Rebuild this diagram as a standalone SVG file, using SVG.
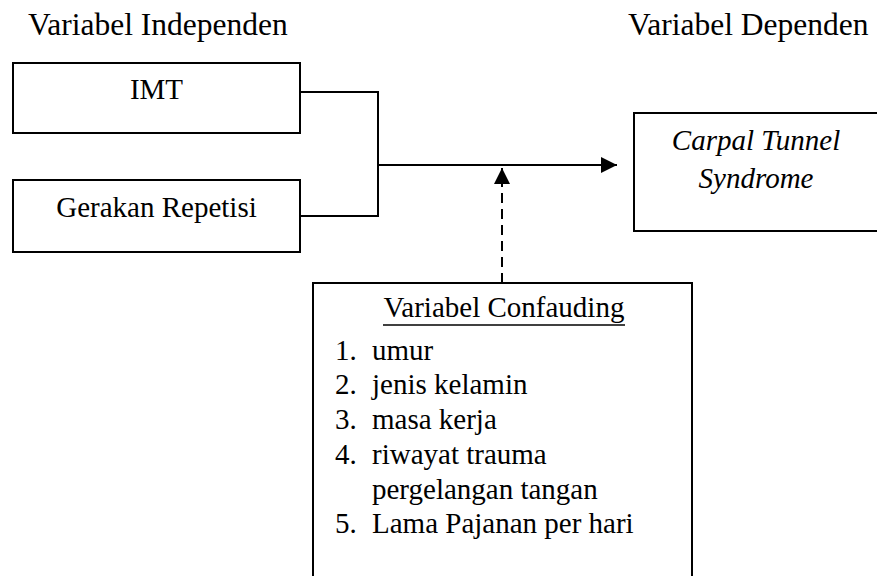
<svg xmlns="http://www.w3.org/2000/svg" width="877" height="576" viewBox="0 0 877 576">
<style>
text{font-family:'Liberation Serif','Times New Roman',Times,'DejaVu Serif',serif;font-size:29px;fill:#000}
.title{font-size:31.5px}
.box{fill:#fff;stroke:#000;stroke-width:2}
.ln{fill:none;stroke:#000;stroke-width:2}
.it{font-style:italic}
</style>
<defs>
<marker id="ah" viewBox="0 0 16 16" refX="16" refY="8" markerWidth="16" markerHeight="16" markerUnits="userSpaceOnUse" orient="auto">
<path d="M0,0 L16,8 L0,16 Z" fill="#000"/>
</marker>
</defs>
<rect width="877" height="576" fill="#fff"/>
<text class="title" x="28" y="35" font-family="Liberation Serif, serif">Variabel Independen</text>
<text class="title" x="628" y="35" font-family="Liberation Serif, serif">Variabel Dependen</text>
<g id="connectors">
<polyline class="ln" points="300,92 378,92 378,216 300,216"/>
<line class="ln" x1="378" y1="165" x2="617" y2="165" stroke-width="2.5" marker-end="url(#ah)"/>
<line class="ln" x1="502" y1="283" x2="502" y2="168" stroke-dasharray="10 6" stroke-width="2.5" marker-end="url(#ah)"/>
</g>
<g id="imt">
<rect class="box" x="13" y="63" width="287" height="70"/>
<text x="156.5" y="99" text-anchor="middle">IMT</text>
</g>
<g id="gerakan">
<rect class="box" x="13" y="180" width="287" height="72"/>
<text x="156.5" y="217" text-anchor="middle">Gerakan Repetisi</text>
</g>
<g id="cts">
<rect class="box" x="634" y="113" width="250" height="118"/>
<text class="it" x="756" y="150" text-anchor="middle">Carpal Tunnel</text>
<text class="it" x="756" y="188" text-anchor="middle">Syndrome</text>
</g>
<g id="confounding">
<rect class="box" x="313" y="283" width="379" height="310"/>
<text x="504" y="317" text-anchor="middle">Variabel Confauding</text>
<line x1="383" y1="325" x2="625" y2="325" stroke="#000" stroke-width="1.5"/>
<text x="335" y="360">1.</text><text x="372" y="360">umur</text>
<text x="335" y="394">2.</text><text x="372" y="394">jenis kelamin</text>
<text x="335" y="429">3.</text><text x="372" y="429">masa kerja</text>
<text x="335" y="464">4.</text><text x="372" y="464">riwayat trauma</text>
<text x="372" y="499">pergelangan tangan</text>
<text x="335" y="533">5.</text><text x="372" y="533">Lama Pajanan per hari</text>
</g>
</svg>
